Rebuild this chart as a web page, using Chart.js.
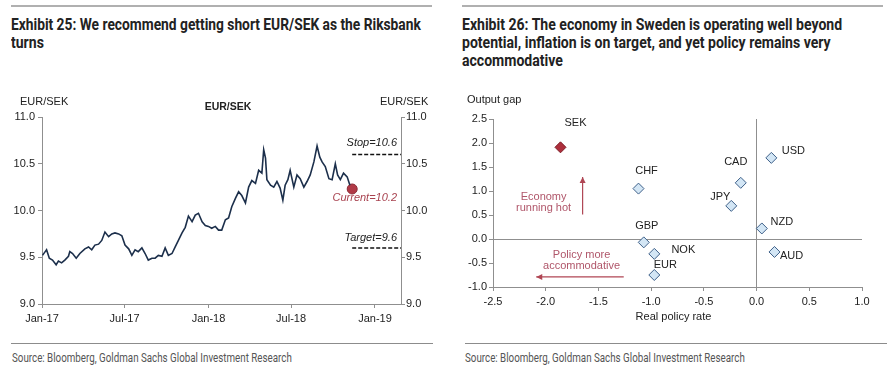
<!DOCTYPE html>
<html>
<head>
<meta charset="utf-8">
<script src="https://cdn.jsdelivr.net/npm/chart.js@4.4.1/dist/chart.umd.min.js"></script>
<style>
  body { margin: 0; background: #fff; width: 890px; height: 367px; position: relative; overflow: hidden; }
  .rule { position: absolute; height: 2px; background: #b0b0b0; }
  .foot { position: absolute; height: 1px; background: #8c8c8c; }
  .title { position: absolute; font-family: Roboto, "Liberation Sans", sans-serif; font-weight: bold; font-size: 16px; line-height: 18px; color: #222; white-space: nowrap; transform-origin: 0 50%; }
  .source { position: absolute; top: 350px; font-family: Roboto, "Liberation Sans", sans-serif; font-size: 13px; line-height: 16px; color: #555; white-space: nowrap; transform-origin: 0 50%; }
  canvas { position: absolute; top: 90px; }
</style>
</head>
<body>
<div class="rule" style="left:11px;top:5px;width:421px"></div>
<div class="rule" style="left:462px;top:5px;width:421px"></div>
<div class="title" style="left:11px;top:16px" data-w="410">Exhibit 25: We recommend getting short EUR/SEK as the Riksbank</div>
<div class="title" style="left:11px;top:34px">turns</div>
<div class="title" style="left:462px;top:16px" data-w="380">Exhibit 26: The economy in Sweden is operating well beyond</div>
<div class="title" style="left:462px;top:34px">potential, inflation is on target, and yet policy remains very</div>
<div class="title" style="left:462px;top:52px">accommodative</div>
<canvas id="fxChart" width="445" height="240" style="left:0"></canvas>
<canvas id="gapChart" width="445" height="240" style="left:445px"></canvas>
<div class="foot" style="left:11px;top:343px;width:422px"></div>
<div class="foot" style="left:465px;top:343px;width:422px"></div>
<div class="source" style="left:12px" data-w="280">Source: Bloomberg, Goldman Sachs Global Investment Research</div>
<div class="source" style="left:465px" data-w="280">Source: Bloomberg, Goldman Sachs Global Investment Research</div>
<script>
// EUR/SEK
const dates = [
  '2017-01-02','2017-01-08','2017-01-11','2017-01-17','2017-01-24','2017-02-01','2017-02-06','2017-02-13','2017-02-20','2017-02-28',
  '2017-03-03','2017-03-09','2017-03-17','2017-03-25','2017-04-05','2017-04-13','2017-04-20','2017-04-27','2017-05-05','2017-05-12',
  '2017-05-19','2017-05-27','2017-06-03','2017-06-10','2017-06-18','2017-06-25','2017-07-02','2017-07-10','2017-07-17','2017-07-24',
  '2017-07-31','2017-08-08','2017-08-15','2017-08-22','2017-08-30','2017-09-06','2017-09-13','2017-09-21','2017-09-28','2017-10-05',
  '2017-10-13','2017-10-20','2017-10-27','2017-11-04','2017-11-11','2017-11-18','2017-11-26','2017-12-03','2017-12-10','2017-12-18',
  '2017-12-25','2018-01-01','2018-01-08','2018-01-16','2018-01-23','2018-01-30','2018-02-07','2018-02-14','2018-02-21','2018-03-01',
  '2018-03-08','2018-03-15','2018-03-23','2018-03-30','2018-04-06','2018-04-14','2018-04-21','2018-04-28','2018-05-02','2018-05-06',
  '2018-05-09','2018-05-17','2018-05-24','2018-05-31','2018-06-07','2018-06-13','2018-06-18','2018-06-24','2018-06-29','2018-07-07',
  '2018-07-14','2018-07-21','2018-07-29','2018-08-05','2018-08-12','2018-08-20','2018-08-27','2018-09-02','2018-09-07','2018-09-14',
  '2018-09-22','2018-09-29','2018-10-06','2018-10-11','2018-10-17','2018-10-24','2018-11-01','2018-11-07'
];
const eursek = [
  9.52, 9.56, 9.58, 9.49, 9.47, 9.42, 9.46, 9.44, 9.47, 9.51,
  9.56, 9.54, 9.49, 9.54, 9.59, 9.61, 9.58, 9.63, 9.64, 9.68,
  9.77, 9.72, 9.75, 9.76, 9.75, 9.73, 9.63, 9.59, 9.52, 9.58,
  9.56, 9.60, 9.54, 9.47, 9.49, 9.49, 9.52, 9.51, 9.60, 9.52,
  9.54, 9.61, 9.68, 9.76, 9.82, 9.94, 9.88, 9.95, 9.97, 9.88,
  9.84, 9.83, 9.81, 9.83, 9.79, 9.79, 9.90, 9.92, 10.04, 10.13,
  10.20, 10.16, 10.08, 10.25, 10.32, 10.29, 10.43, 10.40, 10.65, 10.56,
  10.33, 10.27, 10.25, 10.31, 10.24, 10.11, 10.27, 10.33, 10.43, 10.25,
  10.38, 10.34, 10.25, 10.31, 10.38, 10.52, 10.69, 10.57, 10.52, 10.47,
  10.34, 10.33, 10.50, 10.38, 10.33, 10.40, 10.36, 10.27
];
const currentDate = '2018-11-12';
const currentLevel = 10.23;
const stopLevel = 10.6;
const targetLevel = 9.6;
const axisEndDate = '2019-02-27';
const timeTicks = ['2017-01-01', '2017-07-01', '2018-01-01', '2018-07-01', '2019-01-01'];
const timeTickLabels = ['Jan-17', 'Jul-17', 'Jan-18', 'Jul-18', 'Jan-19'];

// output gap vs real policy rate
const countries = ['SEK', 'CHF', 'CAD', 'USD', 'JPY', 'NZD', 'GBP', 'NOK', 'EUR', 'AUD'];
const realPolicyRate = [-1.86, -1.12, -0.15, 0.14, -0.24, 0.05, -1.07, -0.97, -0.97, 0.17];
const outputGap = [1.91, 1.05, 1.17, 1.69, 0.69, 0.22, -0.07, -0.31, -0.75, -0.27];
// label offsets in px from each marker
const labelDx = [15, 8, -5, 22, -11, 20, 3, 29, 11, 17];
const labelDy = [-24, -18, -21, -7, -9, -6, -16, -4, -10, 4];

// squeeze the condensed header/footer text to the widths in the picture
let squeeze = 1;
document.querySelectorAll('[data-w]').forEach(el => {
  const k = +el.dataset.w / el.scrollWidth;
  el.style.transform = 'scaleX(' + k + ')';
  if (el.classList.contains('title')) squeeze = k;
});
document.querySelectorAll('.title:not([data-w])').forEach(el => { el.style.transform = 'scaleX(' + squeeze + ')'; });

const day0 = Date.parse('2017-01-01');
const dayNum = s => (Date.parse(s) - day0) / 86400000;

const axisGrey = '#8f8f8f';
const tickFont = { family: 'Liberation Sans, Arial, sans-serif', size: 11 };

const fxText = {
  id: 'fxText',
  afterDraw(chart) {
    const c = chart.ctx, x = chart.scales.x, y = chart.scales.y;
    c.save();
    c.fillStyle = '#222';
    c.textBaseline = 'middle';
    c.font = '11px Liberation Sans, Arial, sans-serif';
    c.textAlign = 'left';
    c.fillText('EUR/SEK', 20, 12);
    c.fillText('EUR/SEK', 380, 12);
    c.font = 'bold 10.5px Liberation Sans, Arial, sans-serif';
    c.textAlign = 'center';
    c.fillText('EUR/SEK', 228, 17);
    c.font = 'italic 11px Liberation Sans, Arial, sans-serif';
    c.textAlign = 'right';
    const rx = x.right - 4;
    c.fillText('Stop=' + stopLevel.toFixed(1), rx, y.getPixelForValue(stopLevel) - 11);
    c.fillText('Target=' + targetLevel.toFixed(1), rx, y.getPixelForValue(targetLevel) - 10);
    c.fillStyle = '#a8424f';
    c.fillText('Current=' + currentLevel.toFixed(1), rx, y.getPixelForValue(currentLevel) + 9);
    c.restore();
  }
};

new Chart(document.getElementById('fxChart'), {
  type: 'line',
  data: {
    datasets: [
      {
        data: dates.map((d, i) => ({ x: dayNum(d), y: eursek[i] })),
        borderColor: '#1c2f4b',
        borderWidth: 1.6,
        pointRadius: 0,
        tension: 0
      },
      {
        data: [{ x: dayNum(currentDate), y: currentLevel }],
        pointRadius: 5,
        pointBackgroundColor: '#b13a47',
        pointBorderColor: '#8c2a35',
        showLine: false
      },
      {
        data: [{ x: dayNum(currentDate), y: stopLevel }, { x: dayNum(axisEndDate), y: stopLevel }],
        borderColor: '#111',
        borderWidth: 1.5,
        borderDash: [4, 2],
        pointRadius: 0
      },
      {
        data: [{ x: dayNum(currentDate), y: targetLevel }, { x: dayNum(axisEndDate), y: targetLevel }],
        borderColor: '#111',
        borderWidth: 1.5,
        borderDash: [4, 2],
        pointRadius: 0
      }
    ]
  },
  options: {
    responsive: false,
    devicePixelRatio: 1,
    animation: false,
    layout: { padding: { top: 27, left: 0, right: 0, bottom: 0 } },
    plugins: { legend: { display: false }, tooltip: { enabled: false } },
    scales: {
      x: {
        type: 'linear',
        min: 0,
        max: dayNum(axisEndDate),
        afterBuildTicks: s => { s.ticks = timeTicks.map(t => ({ value: dayNum(t) })); },
        afterFit: s => { s.height = 26; },
        ticks: { callback: (v, i) => timeTickLabels[i], autoSkip: false, maxRotation: 0, color: '#222', font: tickFont, padding: 4 },
        grid: { drawOnChartArea: false, tickLength: 4, color: axisGrey },
        border: { color: axisGrey }
      },
      y: {
        position: 'left',
        min: 9, max: 11,
        afterFit: s => { s.width = 42; },
        ticks: { stepSize: 0.5, callback: v => v.toFixed(1), color: '#222', font: tickFont, padding: 3 },
        grid: { drawOnChartArea: false, tickLength: 4, color: axisGrey },
        border: { color: axisGrey }
      },
      y2: {
        position: 'right',
        min: 9, max: 11,
        afterFit: s => { s.width = 44; },
        ticks: { stepSize: 0.5, callback: v => v.toFixed(1), color: '#222', font: tickFont, padding: 1 },
        grid: { drawOnChartArea: false, tickLength: 4, color: axisGrey },
        border: { color: axisGrey }
      }
    }
  },
  plugins: [fxText]
});

const gapText = {
  id: 'gapText',
  afterDatasetsDraw(chart) {
    const c = chart.ctx, x = chart.scales.x, y = chart.scales.y, a = chart.chartArea;
    c.save();
    c.fillStyle = '#222';
    c.textBaseline = 'middle';
    c.font = '11px Liberation Sans, Arial, sans-serif';
    c.textAlign = 'left';
    c.fillText('Output gap', 22, 10);
    c.textAlign = 'center';
    c.fillText('Real policy rate', (a.left + a.right) / 2 - 4, a.bottom + 30);
    countries.forEach((n, i) => {
      c.fillText(n, x.getPixelForValue(realPolicyRate[i]) + labelDx[i], y.getPixelForValue(outputGap[i]) + labelDy[i]);
    });
    // annotations
    c.fillStyle = '#b0566a';
    c.fillText('Economy', x.getPixelForValue(-2.02), y.getPixelForValue(0.88));
    c.fillText('running hot', x.getPixelForValue(-2.02), y.getPixelForValue(0.65));
    c.fillText('Policy more', x.getPixelForValue(-1.66), y.getPixelForValue(-0.33));
    c.fillText('accommodative', x.getPixelForValue(-1.66), y.getPixelForValue(-0.57));
    c.strokeStyle = '#b04654';
    c.fillStyle = '#b04654';
    c.lineWidth = 1.2;
    const arrow = (x1, y1, x2, y2) => {
      const px1 = x.getPixelForValue(x1), py1 = y.getPixelForValue(y1);
      const px2 = x.getPixelForValue(x2), py2 = y.getPixelForValue(y2);
      c.beginPath(); c.moveTo(px1, py1); c.lineTo(px2, py2); c.stroke();
      const ang = Math.atan2(py2 - py1, px2 - px1);
      c.beginPath();
      c.moveTo(px2, py2);
      c.lineTo(px2 - 6 * Math.cos(ang) + 3 * Math.sin(ang), py2 - 6 * Math.sin(ang) - 3 * Math.cos(ang));
      c.lineTo(px2 - 6 * Math.cos(ang) - 3 * Math.sin(ang), py2 - 6 * Math.sin(ang) + 3 * Math.cos(ang));
      c.closePath(); c.fill();
    };
    arrow(-1.65, 0.51, -1.65, 1.29);
    arrow(-1.26, -0.79, -2.09, -0.79);
    c.restore();
  }
};

new Chart(document.getElementById('gapChart'), {
  type: 'scatter',
  data: {
    datasets: [{
      data: countries.map((n, i) => ({ x: realPolicyRate[i], y: outputGap[i] })),
      pointStyle: 'rectRot',
      pointRadius: 5.5,
      pointBorderWidth: 1,
      pointBackgroundColor: countries.map(n => n === 'SEK' ? '#ad2f3c' : '#d3e6f5'),
      pointBorderColor: countries.map(n => n === 'SEK' ? '#7d1d27' : '#3d5f88')
    }]
  },
  options: {
    responsive: false,
    devicePixelRatio: 1,
    animation: false,
    layout: { padding: { top: 29, left: 0, right: 28, bottom: 0 } },
    plugins: { legend: { display: false }, tooltip: { enabled: false } },
    scales: {
      x: {
        min: -2.5, max: 1.0,
        afterFit: s => { s.height = 43; },
        ticks: { stepSize: 0.5, callback: v => v.toFixed(1), color: '#222', font: tickFont, padding: 4 },
        grid: {
          tickLength: 4,
          color: ctx => ctx.tick && ctx.tick.value === 0 ? axisGrey : 'rgba(0,0,0,0)',
          tickColor: axisGrey
        },
        border: { color: axisGrey }
      },
      y: {
        min: -1.0, max: 2.5,
        afterFit: s => { s.width = 48; },
        ticks: { stepSize: 0.5, callback: v => v.toFixed(1), color: '#222', font: tickFont, padding: 2 },
        grid: {
          tickLength: 4,
          color: ctx => ctx.tick && ctx.tick.value === 0 ? axisGrey : 'rgba(0,0,0,0)',
          tickColor: axisGrey
        },
        border: { color: axisGrey }
      }
    }
  },
  plugins: [gapText]
});
</script>
</body>
</html>
